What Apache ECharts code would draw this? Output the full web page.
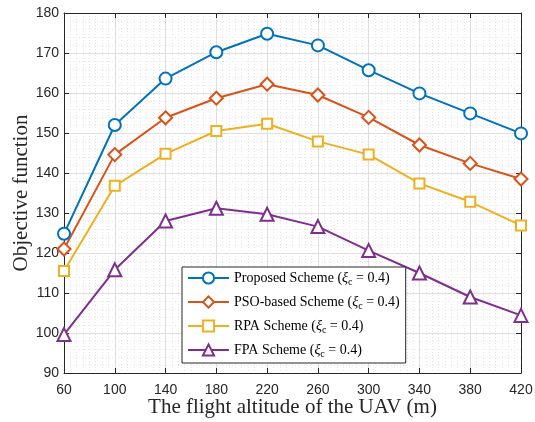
<!DOCTYPE html>
<html><head><meta charset="utf-8">
<script src="https://cdn.jsdelivr.net/npm/echarts@6/dist/echarts.min.js"></script>
<style>html,body{margin:0;padding:0;background:#fff}#c{width:535px;height:422px}</style>
</head><body><div id="c"></div>
<script>
const altitudes = [60, 100, 140, 180, 220, 260, 300, 340, 380, 420];
const proposed = [124.8, 152.0, 163.6, 170.2, 174.8, 171.9, 165.7, 159.9, 154.9, 149.9];
const pso = [121.0, 144.6, 153.8, 158.7, 162.2, 159.5, 153.9, 147.0, 142.4, 138.5];
const rpa = [115.5, 136.8, 144.8, 150.5, 152.3, 147.9, 144.6, 137.4, 132.8, 126.9];
const fpa = [99.6, 115.8, 128.0, 131.2, 129.7, 126.6, 120.6, 115.0, 109.0, 104.4];
const seriesNames = ['Proposed Scheme', 'PSO-based Scheme', 'RPA Scheme', 'FPA Scheme'];
const yTicks = [90, 100, 110, 120, 130, 140, 150, 160, 170, 180];

const colors = ['#0072BD', '#D95319', '#EDB120', '#7E2F8E'];
const symbols = ['emptyCircle', 'emptyDiamond', 'emptyRect', 'emptyTriangle'];
const sizes = [12, 13, 10, 13];
const datas = [proposed, pso, rpa, fpa];

const chart = echarts.init(document.getElementById('c'));
const axisLine = {show: true, lineStyle: {color: '#262626', width: 1}};
const series = datas.map((d, i) => ({
  name: seriesNames[i],
  type: 'line',
  data: d.map((v, j) => [altitudes[j], v]),
  symbol: symbols[i],
  symbolSize: sizes[i],
  color: colors[i],
  lineStyle: {width: 2, color: colors[i]},
  itemStyle: {color: colors[i], borderWidth: 2},
  xAxisIndex: 0, yAxisIndex: 0,
  z: 3
}));
chart.setOption({
  animation: false,
  grid: {left: 64, top: 13, width: 457, height: 360, containLabel: false, outerBoundsMode: 'none'},
  xAxis: [{
    type: 'value', min: 60, max: 420, interval: 40,
    axisLine: axisLine,
    axisTick: {show: true, inside: true, length: 5, lineStyle: {color: '#262626'}},
    axisLabel: {color: '#262626', fontFamily: 'Liberation Sans', fontSize: 14, margin: 10},
    splitLine: {show: true, lineStyle: {color: '#dedede', width: 1}},
    minorTick: {show: false, splitNumber: 8},
    minorSplitLine: {show: true, lineStyle: {color: '#e6e6e6', type: [1, 2], width: 1}},
    name: 'The flight altitude of the UAV (m)',
    nameLocation: 'middle', nameGap: 24, nameMoveOverlap: false,
    nameTextStyle: {fontFamily: 'Liberation Serif', fontSize: 21, color: '#262626'}
  }, {
    type: 'value', min: 60, max: 420, interval: 40, position: 'top',
    axisLine: axisLine,
    axisTick: {show: true, inside: true, length: 5, lineStyle: {color: '#262626'}},
    axisLabel: {show: false}, splitLine: {show: false}
  }],
  yAxis: [{
    type: 'value', min: 90, max: 180, interval: 10,
    axisLine: axisLine,
    axisTick: {show: true, inside: true, length: 5, lineStyle: {color: '#262626'}},
    axisLabel: {color: '#262626', fontFamily: 'Liberation Sans', fontSize: 14, margin: 5,
      formatter: v => yTicks.includes(v) ? String(v) : ''},
    splitLine: {show: true, lineStyle: {color: '#dedede', width: 1}},
    minorTick: {show: false, splitNumber: 5},
    minorSplitLine: {show: true, lineStyle: {color: '#e6e6e6', type: [1, 2], width: 1}},
    name: 'Objective function',
    nameLocation: 'middle', nameGap: 32, nameMoveOverlap: false,
    nameTextStyle: {fontFamily: 'Liberation Serif', fontSize: 21, color: '#262626'}
  }, {
    type: 'value', min: 90, max: 180, interval: 10, position: 'right',
    axisLine: axisLine,
    axisTick: {show: true, inside: true, length: 5, lineStyle: {color: '#262626'}},
    axisLabel: {show: false}, splitLine: {show: false}
  }],
  legend: {
    show: true,
    left: 182, top: 267,
    orient: 'vertical',
    backgroundColor: '#fff',
    borderColor: '#262626', borderWidth: 1,
    padding: [4, 6, 4, 5],
    itemGap: 8,
    itemWidth: 41, itemHeight: 14,
    data: seriesNames,
    textStyle: {
      fontFamily: 'Liberation Serif', fontSize: 14, color: '#000',
      rich: {
        xi: {fontFamily: 'Liberation Serif', fontStyle: 'italic', fontSize: 14, color: '#000'},
        sub: {fontFamily: 'Liberation Serif', fontSize: 10, color: '#000', padding: [8, 0, 0, 0]}
      }
    },
    formatter: name => name + ' ({xi|ξ}{sub|c} = 0.4)'
  },
  series: series
});
</script></body></html>
